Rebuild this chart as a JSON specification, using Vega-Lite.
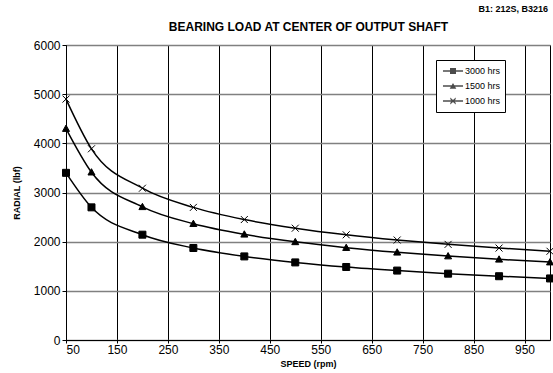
{
  "$schema": "https://vega.github.io/schema/vega-lite/v6.json",
  "width": 484,
  "height": 295,
  "autosize": {"type": "none"},
  "padding": {"left": 66, "top": 45, "right": 3, "bottom": 33},
  "background": "white",
  "config": {
    "font": "Liberation Sans",
    "view": {"stroke": "black", "strokeWidth": 1},
    "axis": {"labelFont": "Liberation Sans", "titleFont": "Liberation Sans", "labelColor": "black", "titleColor": "black"}
  },
  "title": {
    "text": "B1: 212S, B3216",
    "anchor": "end",
    "frame": "group",
    "fontSize": 9,
    "fontWeight": "bold",
    "font": "Liberation Sans",
    "color": "black",
    "offset": 6,
    "dx": -2
  },
  "data": {
    "values": [
      {"speed": 50, "load": 3400, "series": "3000 hrs"},
      {"speed": 100, "load": 2698, "series": "3000 hrs"},
      {"speed": 200, "load": 2142, "series": "3000 hrs"},
      {"speed": 300, "load": 1871, "series": "3000 hrs"},
      {"speed": 400, "load": 1700, "series": "3000 hrs"},
      {"speed": 500, "load": 1578, "series": "3000 hrs"},
      {"speed": 600, "load": 1485, "series": "3000 hrs"},
      {"speed": 700, "load": 1412, "series": "3000 hrs"},
      {"speed": 800, "load": 1349, "series": "3000 hrs"},
      {"speed": 900, "load": 1297, "series": "3000 hrs"},
      {"speed": 1000, "load": 1252, "series": "3000 hrs"},
      {"speed": 50, "load": 4300, "series": "1500 hrs"},
      {"speed": 100, "load": 3413, "series": "1500 hrs"},
      {"speed": 200, "load": 2709, "series": "1500 hrs"},
      {"speed": 300, "load": 2366, "series": "1500 hrs"},
      {"speed": 400, "load": 2150, "series": "1500 hrs"},
      {"speed": 500, "load": 1996, "series": "1500 hrs"},
      {"speed": 600, "load": 1878, "series": "1500 hrs"},
      {"speed": 700, "load": 1784, "series": "1500 hrs"},
      {"speed": 800, "load": 1707, "series": "1500 hrs"},
      {"speed": 900, "load": 1641, "series": "1500 hrs"},
      {"speed": 1000, "load": 1584, "series": "1500 hrs"},
      {"speed": 50, "load": 4900, "series": "1000 hrs"},
      {"speed": 100, "load": 3889, "series": "1000 hrs"},
      {"speed": 200, "load": 3087, "series": "1000 hrs"},
      {"speed": 300, "load": 2697, "series": "1000 hrs"},
      {"speed": 400, "load": 2450, "series": "1000 hrs"},
      {"speed": 500, "load": 2274, "series": "1000 hrs"},
      {"speed": 600, "load": 2140, "series": "1000 hrs"},
      {"speed": 700, "load": 2033, "series": "1000 hrs"},
      {"speed": 800, "load": 1945, "series": "1000 hrs"},
      {"speed": 900, "load": 1870, "series": "1000 hrs"},
      {"speed": 1000, "load": 1805, "series": "1000 hrs"}
    ]
  },
  "layer": [
    {
      "mark": {"type": "line", "interpolate": "monotone", "color": "black", "strokeWidth": 1.5},
      "encoding": {
        "x": {
          "field": "speed", "type": "quantitative",
          "scale": {"domain": [50, 1000], "nice": false, "zero": false},
          "axis": {
            "orient": "bottom",
            "values": [50, 150, 250, 350, 450, 550, 650, 750, 850, 950],
            "format": "d",
            "title": "SPEED (rpm)",
            "titleFontSize": 9, "titleFontWeight": "bold", "titlePadding": 4,
            "labelFontSize": 12, "labelPadding": 1,
            "grid": true, "gridColor": "black", "gridWidth": 1, "gridOpacity": 1,
            "domainColor": "black", "tickColor": "black", "tickSize": 3
          }
        },
        "y": {
          "field": "load", "type": "quantitative",
          "scale": {"domain": [0, 6000], "nice": false},
          "axis": {
            "values": [0, 1000, 2000, 3000, 4000, 5000, 6000],
            "format": "d",
            "title": "RADIAL (lbf)",
            "titleFontSize": 9, "titleFontWeight": "bold", "titlePadding": 12,
            "labelFontSize": 12, "labelPadding": 2,
            "grid": true, "gridColor": "#808080", "gridWidth": 1.5, "gridOpacity": 1,
            "domainColor": "black", "tickColor": "black", "tickSize": 4
          }
        },
        "detail": {"field": "series"}
      }
    },
    {
      "mark": {"type": "point", "filled": true, "color": "black", "stroke": "black", "strokeWidth": 1, "opacity": 1, "size": 49},
      "encoding": {
        "x": {
          "field": "speed", "type": "quantitative",
          "axis": {
            "orient": "top", "labels": false, "ticks": false, "domain": false, "grid": false,
            "title": "BEARING LOAD AT CENTER OF OUTPUT SHAFT",
            "titleFontSize": 12, "titleFontWeight": "bold", "titlePadding": 12
          }
        },
        "y": {"field": "load", "type": "quantitative"},
        "shape": {
          "field": "series", "type": "nominal",
          "scale": {
            "domain": ["3000 hrs", "1500 hrs", "1000 hrs"],
            "range": ["M-1,-1H1V1H-1Z", "M-1,0.8L0,-1L1,0.8Z", "M-1,-1L1,1M-1,1L1,-1"]
          },
          "legend": null
        }
      }
    },
    {
      "mark": {"type": "point", "filled": true, "color": "black", "size": 0},
      "encoding": {
        "x": {"field": "speed", "type": "quantitative", "axis": null},
        "y": {"field": "load", "type": "quantitative"},
        "shape": {
          "field": "series", "type": "nominal",
          "scale": {
            "domain": ["3000 hrs", "1500 hrs", "1000 hrs"],
            "range": [
              "M-1.67,-0.12H1.67V0.12H-1.67ZM-0.5,-0.5H0.5V0.5H-0.5Z",
              "M-1.67,-0.12H1.67V0.12H-1.67ZM-0.55,0.45L0,-0.5L0.55,0.45Z",
              "M-1.67,-0.12H1.67V0.12H-1.67ZM0,-0.15L0.45,-0.6L0.45,-0.3L0.15,0L0.45,0.3L0.45,0.6L0,0.15L-0.45,0.6L-0.45,0.3L-0.15,0L-0.45,-0.3L-0.45,-0.6Z"
            ]
          },
          "legend": {
            "title": null,
            "orient": "none",
            "legendX": 370,
            "legendY": 15,
            "direction": "vertical",
            "strokeColor": "black",
            "fillColor": "white",
            "padding": 4,
            "symbolSize": 144,
            "symbolOffset": 6,
            "labelFontSize": 9,
            "labelFont": "Liberation Sans",
            "labelColor": "black",
            "labelOffset": 5,
            "rowPadding": 2,
            "encode": {
              "symbols": {
                "update": {
                  "fill": {"value": "black"},
                  "opacity": {"value": 1},
                  "size": {"value": 144}
                }
              }
            }
          }
        }
      }
    }
  ],
  "resolve": {"scale": {"shape": "independent"}, "axis": {"x": "independent"}}
}
